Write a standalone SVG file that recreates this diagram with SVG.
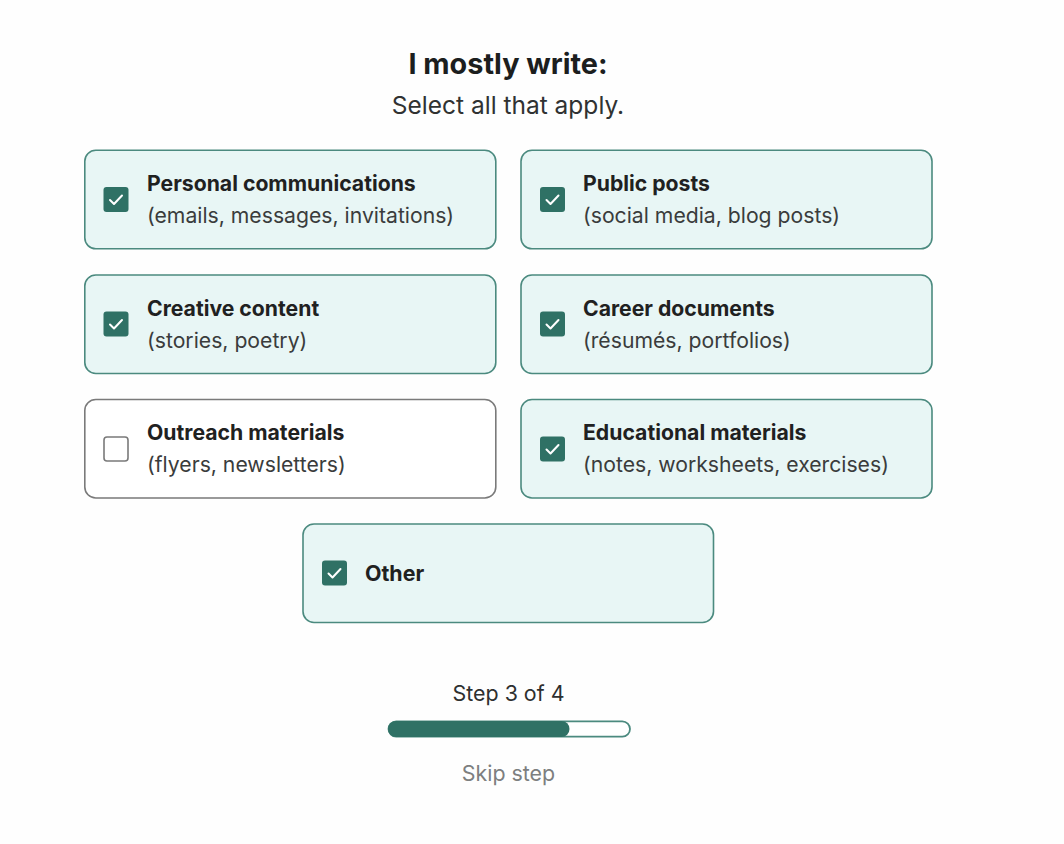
<svg xmlns="http://www.w3.org/2000/svg" width="1064" height="844" viewBox="0 0 1064 844">
<defs>
<style>
text{font-family:Inter,"Noto Sans","Liberation Sans",sans-serif;fill:#2a2c2c}
.card{fill:#e8f6f5;stroke:#4b8a7f;stroke-width:1.6}
.off{fill:#fff;stroke:#7a7a7a}
.t{font-size:21.2px;font-weight:700;fill:#1f2121}
.s{font-size:21.2px;fill:#3a3c3c}
.box{fill:#2f7165}
.ob{fill:#fff;stroke:#7a7a7a;stroke-width:1.6}
.chk{fill:none;stroke:#fff;stroke-width:2;stroke-linecap:round;stroke-linejoin:round}
</style>
<g id="check"><rect class="box" x="-12.500" y="-12.500" width="25" height="25" rx="3"/><path class="chk" d="M-6 0.500L-2 4.500L6 -4"/></g>
</defs>
<rect width="1064" height="844" fill="#fefefe"/>
<text x="508" y="73.500" text-anchor="middle" style="font-size:28.800px;font-weight:700;fill:#1c1e1e">I mostly write:</text>
<text x="508" y="114" text-anchor="middle" style="font-size:24.500px;fill:#303232">Select all that apply.</text>
<g id="personal"><rect class="card" x="84.800" y="150.300" width="411" height="98.500" rx="11"/><use href="#check" x="116" y="199.500"/><text class="t" x="147" y="191">Personal communications</text><text class="s" x="147" y="223">(emails, messages, invitations)</text></g>
<g id="public"><rect class="card" x="521" y="150.300" width="411" height="98.500" rx="11"/><use href="#check" x="552.500" y="199.500"/><text class="t" x="583" y="191">Public posts</text><text class="s" x="583" y="223">(social media, blog posts)</text></g>
<g id="creative"><rect class="card" x="84.800" y="275" width="411" height="98.500" rx="11"/><use href="#check" x="116" y="324"/><text class="t" x="147" y="315.500">Creative content</text><text class="s" x="147" y="347.500">(stories, poetry)</text></g>
<g id="career"><rect class="card" x="521" y="275" width="411" height="98.500" rx="11"/><use href="#check" x="552.500" y="324"/><text class="t" x="583" y="315.500">Career documents</text><text class="s" x="583" y="347.500">(résumés, portfolios)</text></g>
<g id="outreach"><rect class="card off" x="84.800" y="399.500" width="411" height="98.500" rx="11"/><rect class="ob" x="104" y="437" width="24" height="24" rx="3"/><text class="t" x="147" y="440">Outreach materials</text><text class="s" x="147" y="472">(flyers, newsletters)</text></g>
<g id="educational"><rect class="card" x="521" y="399.500" width="411" height="98.500" rx="11"/><use href="#check" x="552.500" y="449"/><text class="t" x="583" y="440">Educational materials</text><text class="s" x="583" y="472">(notes, worksheets, exercises)</text></g>
<g id="other"><rect class="card" x="303" y="524" width="410.500" height="98.500" rx="11"/><use href="#check" x="334.500" y="573"/><text class="t" x="365" y="580.500" style="font-size:21.4px">Other</text></g>
<g id="progress">
<text x="508.500" y="700.500" text-anchor="middle" style="font-size:21.400px;fill:#2e3030">Step 3 of 4</text>
<rect x="388.500" y="721.300" width="241.500" height="15.400" rx="7.700" fill="#fff" stroke="#4b8a7f" stroke-width="1.800"/>
<rect x="388" y="721" width="181.500" height="16" rx="8" fill="#2f7165"/>
<text x="508.500" y="781" text-anchor="middle" style="font-size:21.400px;fill:#7d7f7f">Skip step</text>
</g>
</svg>
